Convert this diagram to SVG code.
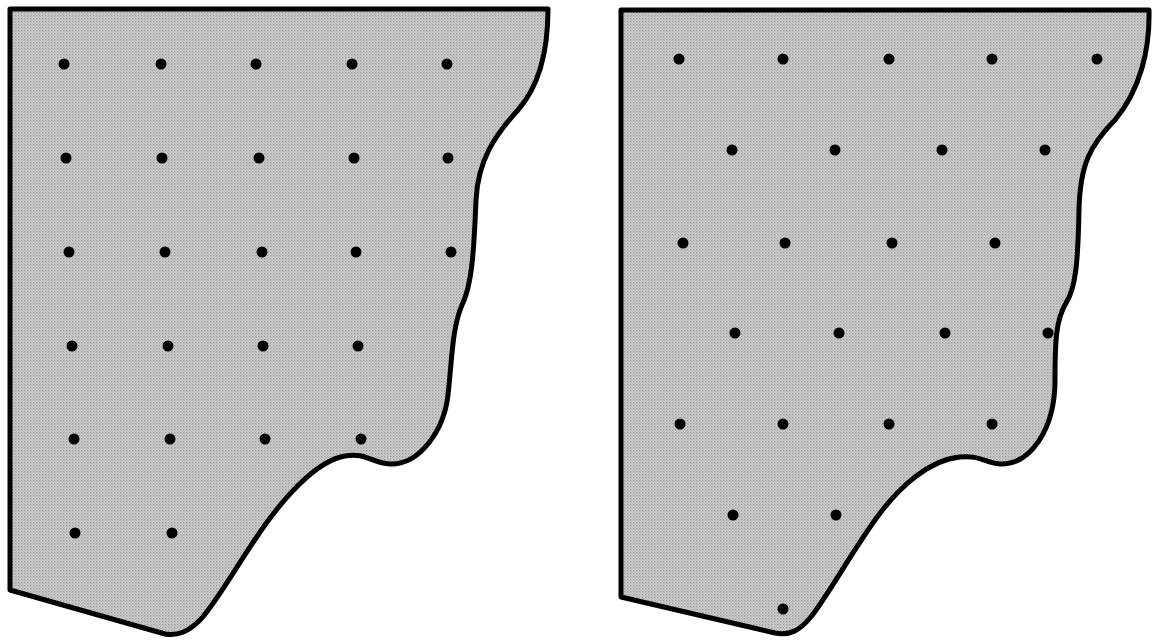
<svg xmlns="http://www.w3.org/2000/svg" width="1154" height="640" viewBox="0 0 1154 640">
<style>
.shape{fill:url(#stip);stroke:#000;stroke-width:5;stroke-linejoin:round}
.dot{fill:#000}
</style>
<defs>
<pattern id="stip" width="3" height="3" patternUnits="userSpaceOnUse">
<rect width="3" height="3" fill="#d0d0d0"/>
<rect x="0" y="0" width="1.4" height="1.4" fill="#9c9c9c"/>
<rect x="1.5" y="1.5" width="1.2" height="1.2" fill="#aaaaaa"/>
</pattern>
</defs>
<rect width="1154" height="640" fill="#fff"/>
<g id="left-plate">
<path class="shape" d="M 10 9 L 548 9 C 548 50, 540 85, 518 110 C 495 135, 478 160, 476 200 C 474 250, 472 285, 462 305 C 452 328, 452 360, 448 395 C 444 430, 420 465, 390 464 C 372 463, 365 452, 345 456 C 320 460, 290 490, 265 525 C 240 560, 215 605, 200 620 C 188 632, 178 636, 165 634 L 10 590 Z"/>
<g class="dot">
<circle cx="64" cy="64" r="5.5"/><circle cx="161" cy="64" r="5.5"/><circle cx="256" cy="64" r="5.5"/><circle cx="352" cy="64" r="5.5"/><circle cx="447" cy="64" r="5.5"/>
<circle cx="66" cy="158" r="5.5"/><circle cx="162" cy="158" r="5.5"/><circle cx="259" cy="158" r="5.5"/><circle cx="354" cy="158" r="5.5"/><circle cx="448" cy="158" r="5.5"/>
<circle cx="69" cy="252" r="5.5"/><circle cx="165" cy="252" r="5.5"/><circle cx="262" cy="252" r="5.5"/><circle cx="356" cy="252" r="5.5"/><circle cx="451" cy="252" r="5.5"/>
<circle cx="72" cy="346" r="5.5"/><circle cx="168" cy="346" r="5.5"/><circle cx="263" cy="346" r="5.5"/><circle cx="358" cy="346" r="5.5"/>
<circle cx="74" cy="439" r="5.5"/><circle cx="170" cy="439" r="5.5"/><circle cx="265" cy="439" r="5.5"/><circle cx="361" cy="439" r="5.5"/>
<circle cx="75" cy="533" r="5.5"/><circle cx="172" cy="533" r="5.5"/>
</g>
</g>
<g id="right-plate">
<path class="shape" d="M 621 10 L 1149 10 C 1150 50, 1140 90, 1115 120 C 1090 145, 1080 165, 1079 210 C 1078 260, 1076 288, 1066 303 C 1056 320, 1055 340, 1055 380 C 1055 430, 1030 465, 1000 464 C 985 463, 980 455, 960 457 C 930 460, 900 485, 875 520 C 850 555, 825 600, 810 618 C 800 630, 790 636, 775 633 L 621 597 Z"/>
<g class="dot">
<circle cx="679" cy="59" r="5.5"/><circle cx="783" cy="59" r="5.5"/><circle cx="889" cy="59" r="5.5"/><circle cx="992" cy="59" r="5.5"/><circle cx="1097" cy="59" r="5.5"/>
<circle cx="732" cy="150" r="5.5"/><circle cx="835" cy="150" r="5.5"/><circle cx="942" cy="150" r="5.5"/><circle cx="1045" cy="150" r="5.5"/>
<circle cx="683" cy="243" r="5.5"/><circle cx="785" cy="243" r="5.5"/><circle cx="892" cy="243" r="5.5"/><circle cx="995" cy="243" r="5.5"/>
<circle cx="735" cy="333" r="5.5"/><circle cx="839" cy="333" r="5.5"/><circle cx="945" cy="333" r="5.5"/><circle cx="1048" cy="333" r="5.5"/>
<circle cx="680" cy="424" r="5.5"/><circle cx="783" cy="424" r="5.5"/><circle cx="889" cy="424" r="5.5"/><circle cx="992" cy="424" r="5.5"/>
<circle cx="733" cy="515" r="5.5"/><circle cx="836" cy="515" r="5.5"/>
<circle cx="783" cy="609" r="5.5"/>
</g>
</g>
</svg>
